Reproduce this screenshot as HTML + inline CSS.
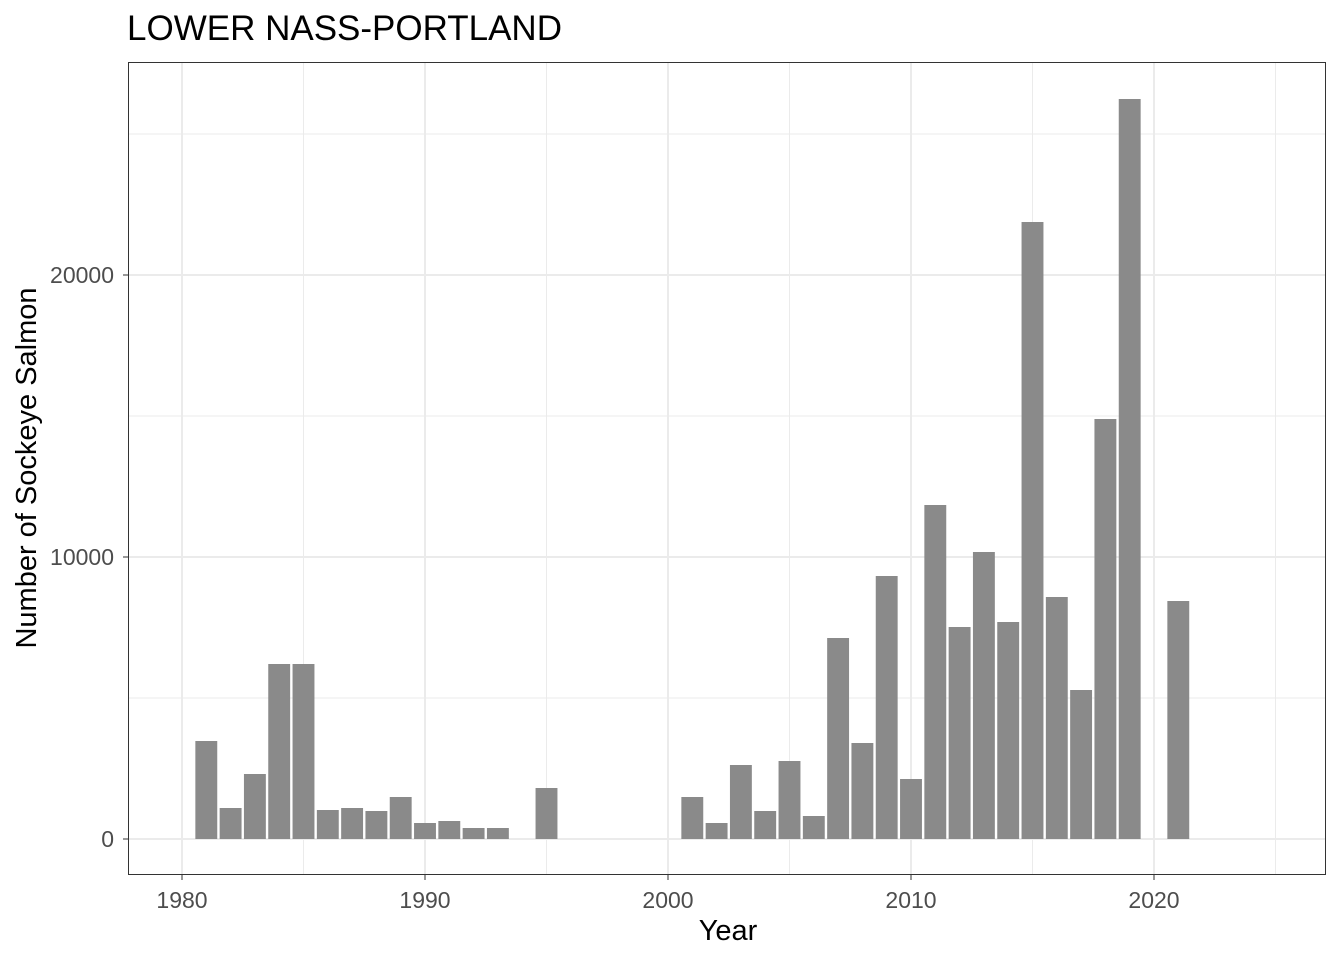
<!DOCTYPE html>
<html><head><style>body{margin:0;background:#fff}svg{display:block}</style></head><body>
<svg width="1344" height="960" xmlns="http://www.w3.org/2000/svg" font-family="Liberation Sans, sans-serif">
<rect width="1344" height="960" fill="#fff"/>
<text x="127" y="40" font-size="35" fill="#000">LOWER NASS-PORTLAND</text>
<g stroke="#ebebeb" stroke-width="1">
<line x1="128" x2="1326" y1="698" y2="698"/><line x1="128" x2="1326" y1="416" y2="416"/><line x1="128" x2="1326" y1="134" y2="134"/>
<line x1="303.5" x2="303.5" y1="62" y2="875"/><line x1="546.5" x2="546.5" y1="62" y2="875"/><line x1="789.5" x2="789.5" y1="62" y2="875"/><line x1="1032.5" x2="1032.5" y1="62" y2="875"/><line x1="1275.5" x2="1275.5" y1="62" y2="875"/>
</g>
<g stroke="#ebebeb" stroke-width="2">
<line x1="128" x2="1326" y1="839" y2="839"/><line x1="128" x2="1326" y1="557" y2="557"/><line x1="128" x2="1326" y1="275" y2="275"/>
<line x1="182" x2="182" y1="62" y2="875"/><line x1="425" x2="425" y1="62" y2="875"/><line x1="668" x2="668" y1="62" y2="875"/><line x1="911" x2="911" y1="62" y2="875"/><line x1="1154" x2="1154" y1="62" y2="875"/>
</g>
<g fill="#8a8a8a">
<rect x="195.35" y="741" width="21.9" height="98"/>
<rect x="219.65" y="808" width="21.9" height="31"/>
<rect x="243.95" y="774" width="21.9" height="65"/>
<rect x="268.25" y="664" width="21.9" height="175"/>
<rect x="292.55" y="664" width="21.9" height="175"/>
<rect x="316.85" y="810" width="21.9" height="29"/>
<rect x="341.15" y="808" width="21.9" height="31"/>
<rect x="365.45" y="811" width="21.9" height="28"/>
<rect x="389.75" y="797" width="21.9" height="42"/>
<rect x="414.05" y="823" width="21.9" height="16"/>
<rect x="438.35" y="821" width="21.9" height="18"/>
<rect x="462.65" y="828" width="21.9" height="11"/>
<rect x="486.95" y="828" width="21.9" height="11"/>
<rect x="535.55" y="788" width="21.9" height="51"/>
<rect x="681.35" y="797" width="21.9" height="42"/>
<rect x="705.65" y="823" width="21.9" height="16"/>
<rect x="729.95" y="765" width="21.9" height="74"/>
<rect x="754.25" y="811" width="21.9" height="28"/>
<rect x="778.55" y="761" width="21.9" height="78"/>
<rect x="802.85" y="816" width="21.9" height="23"/>
<rect x="827.15" y="638" width="21.9" height="201"/>
<rect x="851.45" y="743" width="21.9" height="96"/>
<rect x="875.75" y="576" width="21.9" height="263"/>
<rect x="900.05" y="779" width="21.9" height="60"/>
<rect x="924.35" y="505" width="21.9" height="334"/>
<rect x="948.65" y="627" width="21.9" height="212"/>
<rect x="972.95" y="552" width="21.9" height="287"/>
<rect x="997.25" y="622" width="21.9" height="217"/>
<rect x="1021.55" y="222" width="21.9" height="617"/>
<rect x="1045.85" y="597" width="21.9" height="242"/>
<rect x="1070.15" y="690" width="21.9" height="149"/>
<rect x="1094.45" y="419" width="21.9" height="420"/>
<rect x="1118.75" y="99" width="21.9" height="740"/>
<rect x="1167.35" y="601" width="21.9" height="238"/>
</g>
<rect x="128.5" y="62.5" width="1197" height="812" fill="none" stroke="#333" stroke-width="1"/>
<g stroke="#333"><line x1="123" x2="128" y1="839" y2="839"/><line x1="123" x2="128" y1="557" y2="557"/><line x1="123" x2="128" y1="275" y2="275"/>
<line x1="182" x2="182" y1="875" y2="880"/><line x1="425" x2="425" y1="875" y2="880"/><line x1="668" x2="668" y1="875" y2="880"/><line x1="911" x2="911" y1="875" y2="880"/><line x1="1154" x2="1154" y1="875" y2="880"/></g>
<g font-size="23" fill="#4d4d4d" text-anchor="end"><text x="114" y="847">0</text><text x="114" y="565">10000</text><text x="114" y="283">20000</text></g>
<g font-size="23" fill="#4d4d4d" text-anchor="middle"><text x="182" y="908">1980</text><text x="425" y="908">1990</text><text x="668" y="908">2000</text><text x="911" y="908">2010</text><text x="1154" y="908">2020</text></g>
<text x="728" y="940" font-size="29" text-anchor="middle">Year</text>
<text transform="translate(36,468) rotate(-90)" font-size="29" text-anchor="middle">Number of Sockeye Salmon</text>
</svg>
</body></html>
